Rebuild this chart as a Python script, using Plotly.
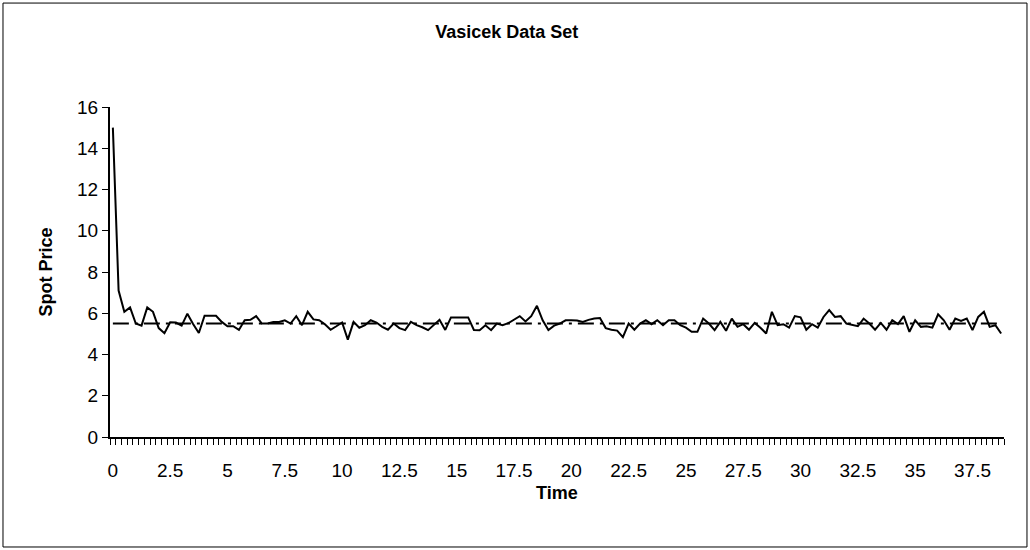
import plotly.graph_objects as go

# spot price series, sampled every 0.25 time units
spot_price = [
    15.0, 7.1, 6.07, 6.28, 5.5, 5.4, 6.28, 6.07, 5.28, 5.03,
    5.56, 5.55, 5.4, 5.98, 5.48, 5.04, 5.88, 5.88, 5.88, 5.58,
    5.37, 5.37, 5.19, 5.66, 5.68, 5.86, 5.5, 5.5, 5.58, 5.58,
    5.66, 5.5, 5.86, 5.42, 6.07, 5.7, 5.66, 5.47, 5.2, 5.37,
    5.55, 4.72, 5.58, 5.3, 5.42, 5.66, 5.55, 5.34, 5.2, 5.5,
    5.28, 5.18, 5.58, 5.42, 5.32, 5.18, 5.42, 5.68, 5.19, 5.8,
    5.8, 5.8, 5.8, 5.19, 5.18, 5.42, 5.18, 5.5, 5.42, 5.52,
    5.68, 5.86, 5.6, 5.86, 6.36, 5.66, 5.19, 5.4, 5.5, 5.66,
    5.66, 5.65, 5.58, 5.68, 5.74, 5.77, 5.28, 5.2, 5.16, 4.84,
    5.5, 5.2, 5.5, 5.66, 5.47, 5.66, 5.42, 5.66, 5.66, 5.42,
    5.3, 5.1, 5.1, 5.74, 5.5, 5.18, 5.58, 5.15, 5.74, 5.34,
    5.47, 5.2, 5.53, 5.3, 5.02, 6.07, 5.42, 5.47, 5.3, 5.86,
    5.8, 5.2, 5.47, 5.3, 5.82, 6.15, 5.82, 5.86, 5.5, 5.42,
    5.37, 5.74, 5.5, 5.2, 5.53, 5.2, 5.66, 5.47, 5.86, 5.1,
    5.66, 5.34, 5.37, 5.3, 5.95, 5.66, 5.2, 5.74, 5.63, 5.74,
    5.18, 5.82, 6.07, 5.34, 5.42, 5.02,
]
time = [i * 0.25 for i in range(len(spot_price))]
mean_level = [5.5] * len(spot_price)

x_tick_vals = [i * 2.5 for i in range(16)]
x_tick_text = ["0", "2.5", "5", "7.5", "10", "12.5", "15", "17.5", "20",
               "22.5", "25", "27.5", "30", "32.5", "35", "37.5"]
y_tick_vals = [0, 2, 4, 6, 8, 10, 12, 14, 16]

fig = go.Figure()
fig.add_trace(go.Scatter(x=time, y=mean_level, mode="lines",
                         line=dict(color="black", width=2, dash="16px,6px,3px,6px"),
                         hoverinfo="skip"))
fig.add_trace(go.Scatter(x=time, y=spot_price, mode="lines",
                         line=dict(color="black", width=2)))

font = "Liberation Sans, Arial, sans-serif"
fig.update_layout(
    width=1030, height=550,
    margin=dict(l=110, r=26, t=107, b=113),
    paper_bgcolor="white", plot_bgcolor="white",
    showlegend=False,
    font=dict(family=font, color="black", size=19),
    title=dict(text="<b>Vasicek Data Set</b>", x=0.492, xanchor="center",
               y=0.942, yanchor="middle", xref="container", yref="container",
               font=dict(size=18, family=font, color="black")),
    xaxis=dict(range=[-0.125, 38.875], tickvals=x_tick_vals, ticktext=x_tick_text,
               ticks="", ticklabelstandoff=15, showgrid=False, zeroline=False,
               showline=True, linecolor="black", linewidth=2,
               minor=dict(ticks="outside", tick0=-0.125, dtick=0.25, ticklen=6,
                          tickcolor="black", tickwidth=1, showgrid=False)),
    yaxis=dict(range=[0, 16], tickvals=y_tick_vals, ticks="outside", ticklen=6,
               tickcolor="black", tickwidth=1, showgrid=False, zeroline=False,
               showline=True, linecolor="black", linewidth=2,
               title=dict(text="<b>Spot Price</b>", font=dict(size=18, family=font), standoff=20)),
    annotations=[dict(text="<b>Time</b>", xref="paper", yref="paper", x=0.5, y=-0.17,
                      xanchor="center", yanchor="middle", showarrow=False,
                      font=dict(size=18, family=font, color="black"))],
    shapes=[dict(type="rect", xref="paper", yref="paper",
                 x0=-0.1197, x1=1.0257, y0=-0.3333, y1=1.315,
                 line=dict(color="black", width=1))],
)

fig.write_html("out.html", config={"displayModeBar": False},
               post_script="document.body.style.margin = '0';")
